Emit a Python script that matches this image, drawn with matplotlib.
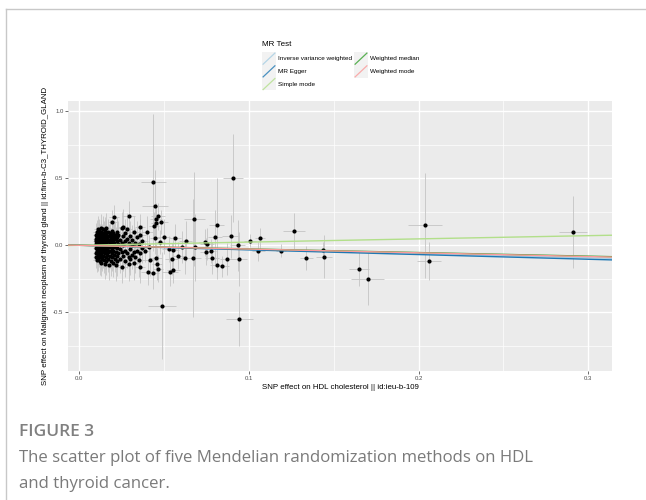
import numpy as np
import matplotlib
matplotlib.use("Agg")
import matplotlib.pyplot as plt
from matplotlib.lines import Line2D
from matplotlib.patches import Rectangle

plt.rcParams['font.family'] = ['Liberation Sans', 'DejaVu Sans']

# -------------------- data --------------------
# SNP effect on exposure (HDL) / outcome (thyroid), with their SE
# dense group near the origin: (beta_x, beta_y, se_x, se_y)
core_snps = [
    (0.0100, 0.05, 0.0020, 0.08), (0.0100, -0.02, 0.0020, 0.07), (0.0100, 0.08, 0.0022, 0.09), (0.0100, -0.06, 0.0019, 0.08),
    (0.0100, 0.01, 0.0021, 0.06), (0.0100, -0.09, 0.0020, 0.08), (0.0100, 0.03, 0.0018, 0.07),
    (0.0105, 0.10, 0.0022, 0.09), (0.0105, -0.04, 0.0020, 0.07), (0.0105, 0.02, 0.0021, 0.06), (0.0105, 0.06, 0.0020, 0.08),
    (0.0105, -0.11, 0.0023, 0.09), (0.0105, -0.01, 0.0019, 0.06),
    (0.0110, 0.12, 0.0024, 0.10), (0.0110, 0.04, 0.0021, 0.07), (0.0110, -0.03, 0.0020, 0.06), (0.0110, -0.07, 0.0022, 0.08),
    (0.0110, 0.07, 0.0020, 0.07), (0.0110, 0.00, 0.0021, 0.06), (0.0110, -0.10, 0.0023, 0.09),
    (0.0115, 0.09, 0.0022, 0.08), (0.0115, -0.05, 0.0021, 0.07), (0.0115, 0.03, 0.0020, 0.06), (0.0115, 0.11, 0.0024, 0.09),
    (0.0115, -0.08, 0.0022, 0.08), (0.0115, 0.02, 0.0020, 0.07),
    (0.0120, 0.06, 0.0022, 0.08), (0.0120, -0.02, 0.0021, 0.07), (0.0120, -0.12, 0.0025, 0.10), (0.0120, 0.08, 0.0022, 0.08),
    (0.0120, 0.01, 0.0020, 0.06), (0.0120, -0.06, 0.0022, 0.08), (0.0120, 0.04, 0.0021, 0.07),
    (0.0125, 0.13, 0.0025, 0.10), (0.0125, -0.04, 0.0022, 0.07), (0.0125, 0.05, 0.0021, 0.07), (0.0125, -0.09, 0.0023, 0.09),
    (0.0125, 0.00, 0.0021, 0.06),
    (0.0130, 0.10, 0.0024, 0.09), (0.0130, 0.03, 0.0022, 0.07), (0.0130, -0.07, 0.0023, 0.08), (0.0130, -0.01, 0.0021, 0.06),
    (0.0130, 0.07, 0.0022, 0.08), (0.0130, -0.13, 0.0026, 0.10),
    (0.0135, 0.08, 0.0023, 0.08), (0.0135, -0.03, 0.0022, 0.07), (0.0135, 0.05, 0.0022, 0.07), (0.0135, -0.10, 0.0024, 0.09),
    (0.0135, 0.01, 0.0021, 0.06),
    (0.0140, 0.12, 0.0025, 0.10), (0.0140, 0.06, 0.0023, 0.08), (0.0140, -0.05, 0.0022, 0.07), (0.0140, -0.08, 0.0024, 0.09),
    (0.0140, 0.02, 0.0021, 0.06), (0.0140, -0.02, 0.0022, 0.07),
    (0.0145, 0.04, 0.0022, 0.07), (0.0145, -0.11, 0.0025, 0.10), (0.0145, 0.09, 0.0024, 0.09), (0.0145, -0.04, 0.0022, 0.07),
    (0.0150, 0.11, 0.0025, 0.10), (0.0150, 0.00, 0.0022, 0.07), (0.0150, -0.06, 0.0023, 0.08), (0.0150, 0.07, 0.0023, 0.08),
    (0.0150, -0.14, 0.0027, 0.11), (0.0150, 0.03, 0.0022, 0.07),
    (0.0155, 0.05, 0.0023, 0.08), (0.0155, -0.09, 0.0025, 0.09), (0.0155, -0.02, 0.0022, 0.07), (0.0155, 0.09, 0.0024, 0.09),
    (0.0160, 0.08, 0.0024, 0.09), (0.0160, -0.04, 0.0023, 0.08), (0.0160, 0.02, 0.0022, 0.07), (0.0160, -0.12, 0.0026, 0.10),
    (0.0160, 0.13, 0.0027, 0.11),
    (0.0165, 0.06, 0.0024, 0.08), (0.0165, -0.07, 0.0024, 0.09), (0.0165, 0.00, 0.0022, 0.07), (0.0165, -0.03, 0.0023, 0.07),
    (0.0170, 0.10, 0.0026, 0.10), (0.0170, 0.03, 0.0023, 0.07), (0.0170, -0.10, 0.0025, 0.10), (0.0170, -0.05, 0.0024, 0.08),
    (0.0175, 0.07, 0.0025, 0.09), (0.0175, -0.01, 0.0023, 0.07), (0.0175, -0.15, 0.0028, 0.11), (0.0175, 0.04, 0.0024, 0.08),
    (0.0180, 0.09, 0.0026, 0.10), (0.0180, -0.08, 0.0025, 0.09), (0.0180, 0.02, 0.0023, 0.07), (0.0180, -0.04, 0.0024, 0.08),
    (0.0185, 0.05, 0.0025, 0.08), (0.0185, -0.12, 0.0027, 0.11), (0.0185, 0.01, 0.0024, 0.07),
    (0.0190, 0.11, 0.0027, 0.10), (0.0190, -0.06, 0.0025, 0.09), (0.0190, 0.03, 0.0024, 0.08), (0.0190, -0.02, 0.0024, 0.07),
    (0.0195, 0.07, 0.0026, 0.09), (0.0195, -0.09, 0.0026, 0.10), (0.0195, 0.00, 0.0024, 0.07),
    (0.0200, 0.04, 0.0026, 0.08), (0.0200, -0.04, 0.0025, 0.08), (0.0200, -0.13, 0.0028, 0.11), (0.0200, 0.09, 0.0027, 0.10),
    (0.0205, 0.02, 0.0025, 0.08), (0.0205, -0.07, 0.0026, 0.09), (0.0205, 0.06, 0.0026, 0.09),
    (0.0210, 0.08, 0.0027, 0.10), (0.0210, -0.10, 0.0027, 0.10), (0.0210, -0.01, 0.0025, 0.08),
    (0.0215, 0.05, 0.0026, 0.09), (0.0215, -0.05, 0.0026, 0.09), (0.0215, -0.15, 0.0029, 0.12),
    (0.0220, 0.03, 0.0026, 0.09), (0.0220, -0.08, 0.0027, 0.10), (0.0220, 0.10, 0.0028, 0.11),
    (0.0225, -0.02, 0.0026, 0.09), (0.0225, 0.06, 0.0027, 0.10), (0.0225, -0.12, 0.0028, 0.11),
    (0.0230, 0.01, 0.0027, 0.09), (0.0230, -0.06, 0.0027, 0.10), (0.0230, 0.08, 0.0028, 0.10),
    (0.0240, 0.04, 0.0028, 0.10), (0.0240, -0.10, 0.0029, 0.11), (0.0240, -0.03, 0.0028, 0.09),
    (0.0250, 0.13, 0.0030, 0.12), (0.0250, -0.05, 0.0028, 0.10), (0.0250, 0.02, 0.0028, 0.09), (0.0250, -0.16, 0.0031, 0.12),
    (0.0260, 0.07, 0.0029, 0.10), (0.0260, -0.08, 0.0029, 0.11), (0.0260, 0.00, 0.0028, 0.09), (0.0260, 0.14, 0.0031, 0.13),
    (0.0270, 0.03, 0.0029, 0.10), (0.0270, -0.12, 0.0031, 0.12), (0.0270, 0.09, 0.0030, 0.11), (0.0270, -0.04, 0.0029, 0.10),
    (0.0280, 0.12, 0.0031, 0.12), (0.0280, -0.06, 0.0030, 0.11), (0.0280, 0.05, 0.0030, 0.10),
    (0.0290, -0.09, 0.0031, 0.11), (0.0290, 0.02, 0.0030, 0.10), (0.0290, -0.14, 0.0032, 0.13),
    (0.0300, 0.07, 0.0031, 0.11), (0.0300, -0.03, 0.0031, 0.10), (0.0300, -0.10, 0.0032, 0.12),
    (0.0310, 0.00, 0.0031, 0.10), (0.0310, -0.07, 0.0032, 0.11), (0.0310, 0.04, 0.0032, 0.11),
    (0.0320, 0.10, 0.0033, 0.12), (0.0320, -0.13, 0.0034, 0.13), (0.0320, -0.05, 0.0032, 0.11),
    (0.0330, 0.02, 0.0033, 0.11), (0.0330, -0.09, 0.0034, 0.12),
    (0.0340, 0.06, 0.0034, 0.12), (0.0340, -0.04, 0.0033, 0.11),
    (0.0350, -0.11, 0.0035, 0.13), (0.0350, 0.01, 0.0034, 0.11),
    (0.0360, 0.08, 0.0035, 0.12), (0.0360, -0.06, 0.0035, 0.12),
    (0.0370, 0.03, 0.0036, 0.12), (0.0370, -0.02, 0.0035, 0.11),
]

# scattered SNPs further out
outer_snps = [
    (0.0436, 0.470, 0.0075, 0.51), (0.0904, 0.502, 0.0060, 0.33), (0.0489, -0.450, 0.0083, 0.40),
    (0.0943, -0.552, 0.0080, 0.20), (0.0446, 0.294, 0.0075, 0.27), (0.0464, 0.216, 0.0040, 0.10),
    (0.0480, 0.174, 0.0040, 0.09), (0.0452, 0.199, 0.0035, 0.12), (0.0440, 0.147, 0.0030, 0.10),
    (0.0454, 0.164, 0.0030, 0.11), (0.0678, 0.199, 0.0060, 0.35), (0.0810, 0.152, 0.0045, 0.35),
    (0.0892, 0.067, 0.0050, 0.16), (0.0800, 0.060, 0.0040, 0.20), (0.0933, 0.000, 0.0045, 0.19),
    (0.1006, 0.034, 0.0035, 0.05), (0.1067, 0.052, 0.0030, 0.08), (0.1265, 0.109, 0.0066, 0.134),
    (0.0202, 0.214, 0.0030, 0.09), (0.0195, 0.174, 0.0025, 0.09), (0.0291, 0.221, 0.0040, 0.11),
    (0.0358, 0.134, 0.0030, 0.10), (0.0397, 0.100, 0.0035, 0.12), (0.0497, 0.065, 0.0040, 0.13),
    (0.0446, 0.052, 0.0030, 0.12), (0.0564, 0.057, 0.0035, 0.10), (0.0627, 0.032, 0.0040, 0.15),
    (0.0739, 0.022, 0.0035, 0.10), (0.0752, 0.012, 0.0040, 0.12), (0.0475, 0.027, 0.0030, 0.09),
    (0.0684, -0.015, 0.0050, 0.25), (0.0603, -0.012, 0.0040, 0.12), (0.0527, -0.027, 0.0040, 0.10),
    (0.0550, -0.032, 0.0035, 0.10), (0.0747, -0.047, 0.0035, 0.10), (0.0776, -0.040, 0.0030, 0.09),
    (0.0625, -0.092, 0.0045, 0.12), (0.0668, -0.092, 0.0050, 0.44), (0.0544, -0.100, 0.0040, 0.12),
    (0.0583, -0.077, 0.0035, 0.10), (0.0782, -0.092, 0.0040, 0.12), (0.0872, -0.104, 0.0045, 0.12),
    (0.0939, -0.104, 0.0050, 0.20), (0.0811, -0.144, 0.0040, 0.11), (0.0841, -0.157, 0.0040, 0.08),
    (0.1055, -0.045, 0.0040, 0.07), (0.1187, -0.040, 0.0030, 0.05), (0.0417, -0.107, 0.0030, 0.12),
    (0.0452, -0.092, 0.0035, 0.10), (0.0456, -0.142, 0.0030, 0.12), (0.0464, -0.174, 0.0030, 0.10),
    (0.0405, -0.199, 0.0040, 0.10), (0.0432, -0.206, 0.0040, 0.12), (0.0534, -0.197, 0.0045, 0.11),
    (0.0554, -0.182, 0.0040, 0.10), (0.0358, -0.164, 0.0030, 0.12), (0.0387, -0.042, 0.0030, 0.08),
    (0.0413, -0.010, 0.0030, 0.09), (0.1338, -0.097, 0.0040, 0.09), (0.1442, -0.085, 0.0045, 0.16),
    (0.1438, -0.035, 0.0040, 0.06), (0.1650, -0.177, 0.0060, 0.13), (0.1700, -0.249, 0.0096, 0.20),
    (0.2035, 0.149, 0.0100, 0.39), (0.2062, -0.117, 0.0070, 0.14), (0.2911, 0.097, 0.0083, 0.27),
]

methods = ["Inverse variance weighted", "MR Egger", "Simple mode", "Weighted median", "Weighted mode"]
method_colors = ["#a6cee3", "#1f78b4", "#b2df8a", "#33a02c", "#fb9a99"]
intercepts = [0.0, 0.001, 0.0, 0.0, 0.0]
slopes = [-0.31, -0.35, 0.24, -0.27, -0.28]

x_ticks = [0.0, 0.1, 0.2, 0.3]
y_ticks = [-0.5, 0.0, 0.5, 1.0]

snps = np.array(core_snps + outer_snps)
bx, by, se_x, se_y = snps.T

# -------------------- figure --------------------
W, H = 646, 500
fig = plt.figure(figsize=(W / 100, H / 100), dpi=100)
fig.patch.set_facecolor("white")

# outer frame of the article figure box
fig.add_artist(Line2D([6 / W, 6 / W], [0, 1 - 9 / H], color="#c8c8c8", lw=1.0))
fig.add_artist(Line2D([6 / W, 1], [1 - 9 / H, 1 - 9 / H], color="#c8c8c8", lw=1.0))

left, right, top, bottom = 68.3, 612, 101, 371
ax = fig.add_axes([left / W, 1 - bottom / H, (right - left) / W, (bottom - top) / H])
ax.set_facecolor("#ebebeb")
for s in ax.spines.values():
    s.set_visible(False)

ax.set_xlim(-0.0065, 0.314)
ax.set_ylim(-0.938, 1.077)

for v in [0.05, 0.15, 0.25]:
    ax.axvline(v, color="white", lw=0.5, zorder=0)
for v in [-0.75, -0.25, 0.25, 0.75]:
    ax.axhline(v, color="white", lw=0.5, zorder=0)
for v in x_ticks:
    ax.axvline(v, color="white", lw=1.0, zorder=0)
for v in y_ticks:
    ax.axhline(v, color="white", lw=1.0, zorder=0)

ax.errorbar(bx, by, xerr=se_x, yerr=se_y, fmt="none", ecolor="#c4c4c4",
            elinewidth=0.6, capsize=0, zorder=1)
ax.scatter(bx, by, s=9, color="black", linewidths=0, zorder=2)

for name, col, a, b in zip(methods, method_colors, intercepts, slopes):
    ax.axline((0, a), slope=b, color=col, lw=1.0, zorder=3)

ax.set_xticks(x_ticks)
ax.set_xticklabels([f"{v:.1f}" for v in x_ticks])
ax.set_yticks(y_ticks)
ax.set_yticklabels([f"{v:.1f}" for v in y_ticks])
ax.tick_params(length=2, width=0.5, color="#333333", labelsize=4.3,
               labelcolor="#4d4d4d", pad=1.5)

ax.set_xlabel("SNP effect on HDL cholesterol || id:ieu-b-109", fontsize=5.7, labelpad=2)
ax.set_ylabel("SNP effect on Malignant neoplasm of thyroid gland || id:finn-b-C3_THYROID_GLAND",
              fontsize=5.7, labelpad=3)

# -------------------- legend (drawn in pixel space) --------------------
lg = fig.add_axes([0, 0, 1, 1], zorder=5)
lg.set_xlim(0, W)
lg.set_ylim(H, 0)
lg.axis("off")
lg.text(262, 45, "MR Test", fontsize=5.8, va="center", ha="left")
key_w, key_h = 13.4, 12.7
key_x = [262.3, 262.3, 262.3, 354.3, 354.3]
key_y = [52.3, 65.0, 77.7, 52.3, 65.0]
for name, col, kx, ky in zip(methods, method_colors, key_x, key_y):
    lg.add_patch(Rectangle((kx, ky), key_w, key_h, facecolor="#f2f2f2", edgecolor="none"))
    lg.plot([kx + 0.8, kx + key_w - 0.8], [ky + key_h - 0.8, ky + 0.8], color=col, lw=0.9, alpha=0.8)
    lg.text(kx + key_w + 2.5, ky + key_h / 2, name, fontsize=4.6, va="center", ha="left")

# -------------------- caption --------------------
cap = ["Open Sans", "DejaVu Sans"]
fig.text(19 / W, 1 - 432 / H, "FIGURE 3", fontsize=12.5, color="#808080",
         family=cap, weight="semibold", va="center", ha="left")
fig.text(19 / W, 1 - 458 / H, "The scatter plot of five Mendelian randomization methods on HDL",
         fontsize=12.1, color="#7a7a7a", family=cap, va="center", ha="left")
fig.text(19 / W, 1 - 484 / H, "and thyroid cancer.",
         fontsize=12.1, color="#7a7a7a", family=cap, va="center", ha="left")

fig.savefig("out.png", dpi=100)
